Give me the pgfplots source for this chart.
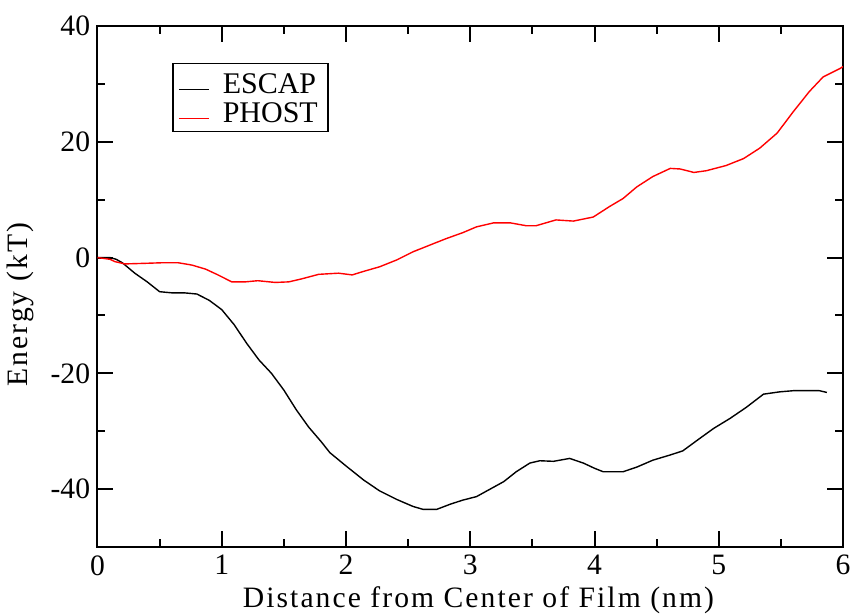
\documentclass[border=0pt]{standalone}
\usepackage{fontspec}
\setmainfont{Liberation Serif}
\newfontfamily\lblfont[LetterSpace=7]{Liberation Serif}
\usepackage{pgfplots}
\usepackage{pgfplotstable}
\pgfplotsset{compat=1.18}
\pgfplotstableread{
x y
0 0
0.1 0
0.15 -0.3
0.2 -0.9
0.3 -2.7
0.4 -4.2
0.5 -5.9
0.6 -6.1
0.7 -6.1
0.8 -6.3
0.9 -7.4
1.0 -9.0
1.1 -11.6
1.2 -14.8
1.3 -17.7
1.4 -20.0
1.5 -22.9
1.6 -26.3
1.7 -29.3
1.8 -31.8
1.87 -33.7
2.0 -36.0
2.14 -38.4
2.27 -40.3
2.41 -41.8
2.54 -43.0
2.62 -43.5
2.73 -43.5
2.84 -42.6
2.94 -41.9
3.05 -41.3
3.16 -40.0
3.27 -38.7
3.37 -37.0
3.48 -35.5
3.56 -35.1
3.67 -35.2
3.80 -34.7
3.91 -35.5
4.0 -36.4
4.07 -37.0
4.23 -37.0
4.34 -36.2
4.47 -35.0
4.61 -34.1
4.71 -33.4
4.85 -31.2
4.96 -29.5
5.09 -27.8
5.22 -25.9
5.36 -23.6
5.49 -23.2
5.60 -23.0
5.81 -23.0
5.87 -23.3
}\escap
\pgfplotstableread{
x y
0 0
0.1 -0.3
0.14 -0.7
0.22 -1.1
0.38 -1.0
0.52 -0.9
0.65 -0.9
0.76 -1.3
0.87 -2.0
0.97 -3.0
1.08 -4.2
1.19 -4.2
1.29 -4.0
1.43 -4.3
1.54 -4.2
1.64 -3.7
1.78 -2.9
1.94 -2.7
2.05 -3.0
2.14 -2.4
2.27 -1.6
2.41 -0.4
2.54 1.0
2.68 2.2
2.81 3.3
2.94 4.3
3.05 5.3
3.19 6.0
3.32 6.0
3.45 5.5
3.53 5.5
3.69 6.5
3.83 6.3
3.99 7.0
4.12 8.8
4.23 10.2
4.34 12.2
4.47 14.0
4.61 15.4
4.69 15.3
4.80 14.7
4.90 15.0
5.06 15.9
5.20 17.1
5.33 18.9
5.47 21.5
5.60 25.2
5.73 28.7
5.84 31.2
5.98 32.7
6.0 33.0
}\phost
\begin{document}
\fontsize{14.8}{17}\selectfont
\begin{tikzpicture}
\begin{axis}[
  scale only axis, width=372.75pt, height=260.5pt,
  xmin=0, xmax=6, ymin=-50, ymax=40,
  xtick={0,1,2,3,4,5,6}, ytick={-40,-20,0,20,40},
  minor xtick={0.5,1.5,2.5,3.5,4.5,5.5},
  minor ytick={-30,-10,10,30},
  tick align=inside,
  major tick length=8pt, minor tick length=4pt,
  axis line style={line width=1pt},
  every tick/.style={black, line width=1pt},
  /pgf/number format/assume math mode=true,
  tick label style={font=\fontsize{14.8}{17}\selectfont},
  yticklabel style={inner xsep=3.5pt},
  xticklabel style={inner ysep=4pt},
  xlabel={Distance from Center of Film (nm)},
  ylabel={Energy (kT)},
  label style={font=\lblfont\fontsize{14.8}{17}\selectfont},
  xlabel style={at={(axis description cs:0.511,0)}, anchor=center, yshift=-26.5pt},
  ylabel style={at={(axis description cs:0,0.465)}, anchor=center, yshift=38.75pt},
  legend style={at={(0.1,0.929)}, anchor=north west, draw=black, line width=0.75pt,
    font=\fontsize{15}{14.5}\selectfont, inner xsep=3pt, inner ysep=4.5pt,
    row sep=4pt, column sep=5pt,
    nodes={inner xsep=2pt, inner ysep=0pt, text height=10.5pt, text depth=0pt}},
  legend cell align=left,
  legend image code/.code={\path[draw=none,fill=none] (0pt,0pt) -- (15pt,0pt);
    \draw[#1,overlay] (0pt,-3pt) -- (15pt,-3pt);},
]
\addplot[black, line width=0.7pt] table[x=x,y=y] {\escap};
\addlegendentry{ESCAP}
\addplot[red, line width=0.7pt] table[x=x,y=y] {\phost};
\addlegendentry{PHOST}
\coordinate (ll) at (rel axis cs:0,0);
\coordinate (ur) at (rel axis cs:1,1);
\end{axis}
\pgfresetboundingbox
\useasboundingbox ([xshift=-48.75pt,yshift=-34pt]ll) rectangle ([xshift=6.5pt,yshift=13pt]ur);
\end{tikzpicture}
\end{document}
